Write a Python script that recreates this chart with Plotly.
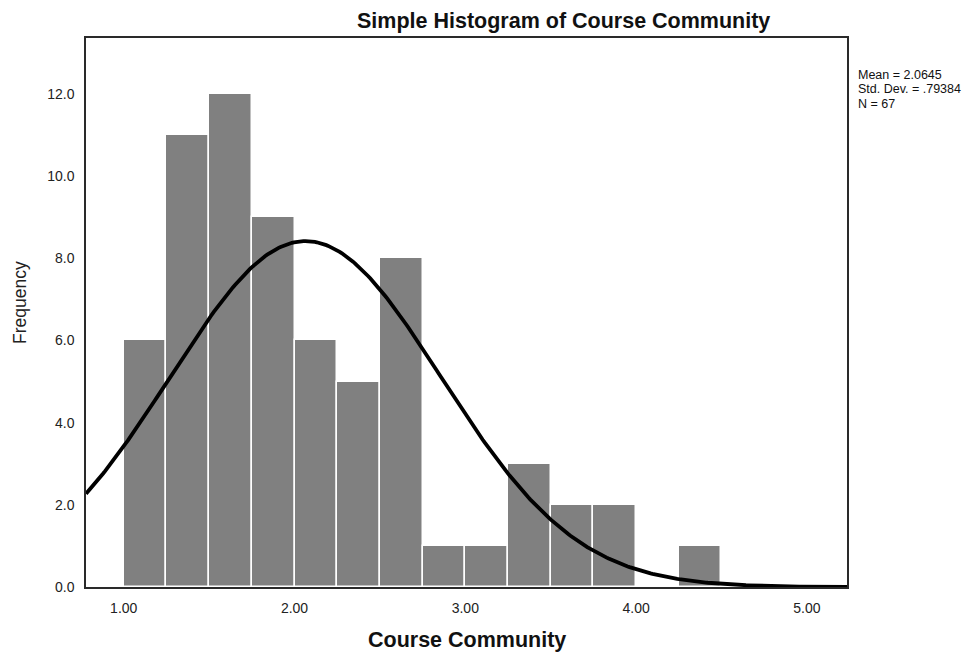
import numpy as np
import plotly.graph_objects as go

# Histogram bins (lower edges) and frequencies for Course Community
bin_starts = [1.00, 1.25, 1.50, 1.75, 2.00, 2.25, 2.50, 2.75, 3.00, 3.25, 3.50, 3.75, 4.00, 4.25]
frequencies = [6, 11, 12, 9, 6, 5, 8, 1, 1, 3, 2, 2, 0, 1]
bin_width = 0.25

# Summary statistics
mean_val = 2.0645
sd_val = 0.79384
n_val = 67
stats_lines = ["Mean = 2.0645", "Std. Dev. = .79384", "N = 67"]

x_ticks = [1.0, 2.0, 3.0, 4.0, 5.0]
x_tick_text = ["1.00", "2.00", "3.00", "4.00", "5.00"]
y_ticks = [0, 2, 4, 6, 8, 10, 12]
y_tick_text = ["0.0", "2.0", "4.0", "6.0", "8.0", "10.0", "12.0"]

x_range = [0.779, 5.235]
y_range = [0, 13.36]

centers = [b + bin_width / 2 for b in bin_starts]

# Normal curve scaled to the histogram counts
xs = np.linspace(x_range[0], x_range[1], 400)
ys = n_val * bin_width / (sd_val * np.sqrt(2 * np.pi)) * np.exp(-0.5 * ((xs - mean_val) / sd_val) ** 2)

W, H = 979, 653
ML, MR, MT, MB = 86, 132, 38, 66
plot_h = H - MT - MB
FONT = "Liberation Sans, Arial, sans-serif"


def paper_y(px):
    """Convert a pixel row of the page to paper coordinates."""
    return (H - MB - px) / plot_h


fig = go.Figure()
fig.add_trace(go.Bar(
    x=centers, y=frequencies, width=bin_width,
    marker=dict(color="#808080", line=dict(color="white", width=1.5)),
    hoverinfo="x+y",
))
fig.add_trace(go.Scatter(
    x=xs, y=ys, mode="lines",
    line=dict(color="black", width=3.8),
    hoverinfo="skip",
))

annotations = [
    dict(text="<b>Simple Histogram of Course Community</b>",
         xref="paper", yref="paper", x=(563.5 - ML) / (W - ML - MR), y=paper_y(21),
         xanchor="center", yanchor="middle", showarrow=False,
         font=dict(family=FONT, size=21.5, color="#111")),
    dict(text="<b>Course Community</b>",
         xref="paper", yref="paper", x=0.5, y=paper_y(640),
         xanchor="center", yanchor="middle", showarrow=False,
         font=dict(family=FONT, size=21.5, color="#111")),
    dict(text="Frequency", textangle=-90,
         xref="paper", yref="paper", x=0, xshift=20 - ML, y=paper_y(303),
         xanchor="center", yanchor="middle", showarrow=False,
         font=dict(family=FONT, size=17.5, color="#222")),
]
for i, line in enumerate(stats_lines):
    annotations.append(dict(
        text=line, xref="paper", yref="paper",
        x=1.0, xshift=856 - (W - MR), y=paper_y(75 + 14.5 * i),
        xanchor="left", yanchor="middle", showarrow=False,
        font=dict(family=FONT, size=12.5, color="#111"),
    ))

fig.update_layout(
    width=W, height=H,
    margin=dict(l=ML, r=MR, t=MT, b=MB),
    paper_bgcolor="white", plot_bgcolor="white",
    showlegend=False, bargap=0,
    font=dict(family=FONT, color="#222"),
    xaxis=dict(
        range=x_range, tickvals=x_ticks, ticktext=x_tick_text,
        showgrid=False, zeroline=False, ticks="", ticklabelstandoff=7,
        showline=True, linecolor="#2a2a2a", linewidth=1.5, mirror=True,
        tickfont=dict(family=FONT, size=14, color="#222"),
    ),
    yaxis=dict(
        range=y_range, tickvals=y_ticks, ticktext=y_tick_text,
        showgrid=False, zeroline=False, ticks="", ticklabelstandoff=7,
        showline=True, linecolor="#2a2a2a", linewidth=1.5, mirror=True,
        tickfont=dict(family=FONT, size=14, color="#222"),
    ),
    annotations=annotations,
)

fig.write_html("out.html")
